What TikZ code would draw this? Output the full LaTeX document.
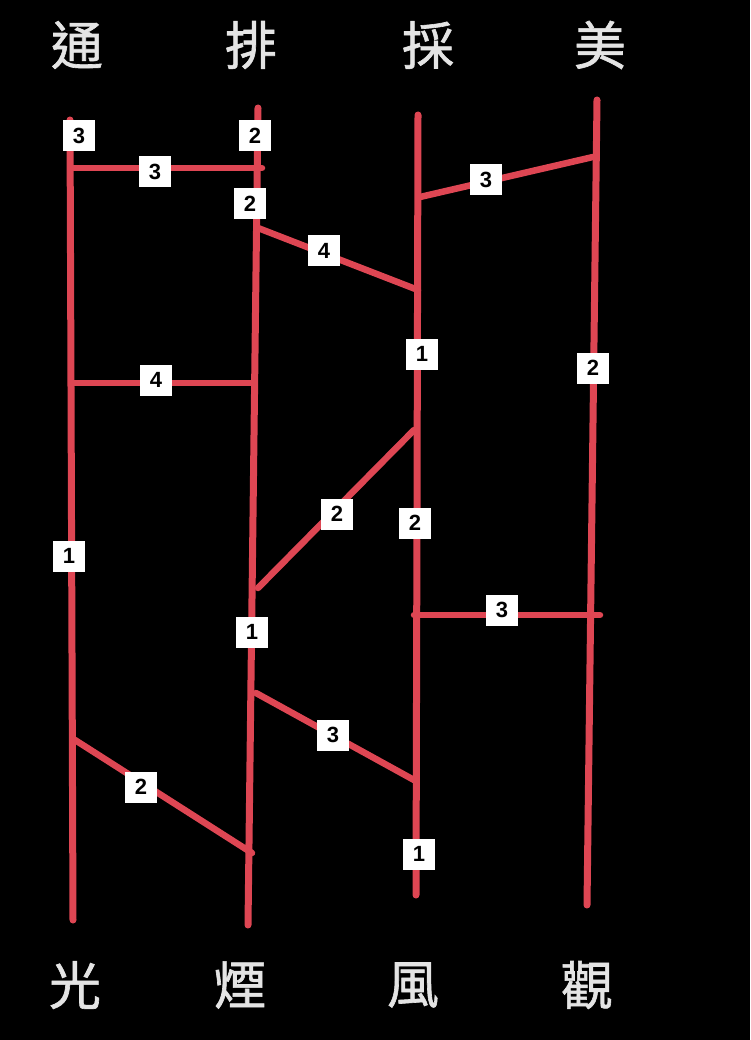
\documentclass[tikz,border=0pt]{standalone}
\usepackage{fontspec}
\setmainfont{Liberation Sans}
\newfontfamily\cjk[FakeBold=1.2]{Noto Sans CJK TC}
\usetikzlibrary{calc}
\definecolor{ladder}{HTML}{DE4653}
\definecolor{inkwhite}{HTML}{E4E4E4}

\begin{document}
\begin{tikzpicture}[x=1pt,y=-1pt,
  rail/.style={line width=7pt,ladder,line cap=round},
  rung/.style={line width=6.5pt,ladder,line cap=round},
  num/.style={fill=white,text=black,inner sep=0pt,minimum width=32pt,minimum height=31pt,
    font=\bfseries\fontsize{22}{22}\selectfont},
  word/.style={text=inkwhite,font=\cjk\fontsize{52}{52}\selectfont}]
  % 背景
  \fill[black] (0,0) rectangle (750,1040);
  % 上下の文字
  \node[word] (tong) at (77,45) {通};
  \node[word] (pai)  at (251,45) {排};
  \node[word] (cai)  at (428,45) {採};
  \node[word] (mei)  at (600,45) {美};
  \node[word] (guang) at (75,985) {光};
  \node[word] (yan)   at (240,985) {煙};
  \node[word] (feng)  at (413,985) {風};
  \node[word] (guan)  at (587,985) {觀};
  % 縦線の端
  \coordinate (t1) at (70,120);  \coordinate (b1) at (73,920);
  \coordinate (t2) at (258,108); \coordinate (b2) at (248,925);
  \coordinate (t3) at (418,115); \coordinate (b3) at (416,895);
  \coordinate (t4) at (597,100); \coordinate (b4) at (587,905);
  % 横線の端
  \coordinate (a1) at (72,168);  \coordinate (a2) at (262,168);
  \coordinate (c1) at (258,228); \coordinate (c2) at (418,290);
  \coordinate (d1) at (420,197); \coordinate (d2) at (593,157);
  \coordinate (e1) at (72,383);  \coordinate (e2) at (252,383);
  \coordinate (f1) at (414,430); \coordinate (f2) at (258,588);
  \coordinate (g1) at (414,615); \coordinate (g2) at (600,615);
  \coordinate (h1) at (256,693); \coordinate (h2) at (414,780);
  \coordinate (k1) at (75,740);  \coordinate (k2) at (252,853);
  % 縦線
  \foreach \i in {1,...,4}
    \draw[rail] (t\i) -- (b\i);
  % 横線
  \foreach \p in {a,c,d,e,f,g,h,k}
    \draw[rung] (\p1) -- (\p2);
  % 横線の数字
  \node[num] (na) at (155,172) {3};
  \node[num] (nc) at (324,251) {4};
  \node[num] (nd) at (486,180) {3};
  \node[num] (ne) at (156,380) {4};
  \node[num] (nf) at (337,514) {2};
  \node[num] (ng) at (502,610) {3};
  \node[num] (nh) at (333,735) {3};
  \node[num] (nk) at (141,787) {2};
  % 縦線の数字
  \node[num] (s11) at (79,136) {3};
  \node[num] (s12) at (69,556) {1};
  \node[num] (s21) at (255,136) {2};
  \node[num] (s22) at (250,204) {2};
  \node[num] (s23) at (252,632) {1};
  \node[num] (s31) at (422,354) {1};
  \node[num] (s32) at (415,523) {2};
  \node[num] (s33) at (419,854) {1};
  \node[num] (s41) at (593,368) {2};
\end{tikzpicture}
\end{document}
